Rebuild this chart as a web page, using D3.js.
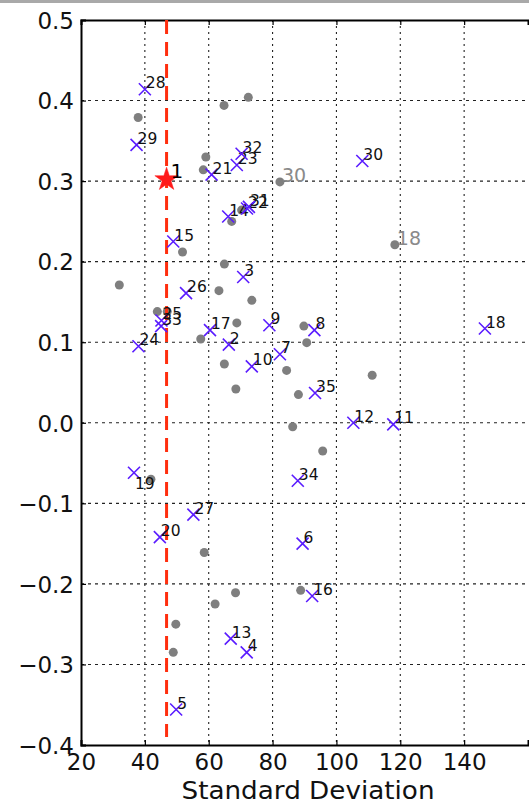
<!DOCTYPE html>
<html><head><meta charset="utf-8">
<script src="https://cdn.jsdelivr.net/npm/d3@7"></script>
<style>html,body{margin:0;padding:0;background:#fff;overflow:hidden}svg{display:block}</style>
</head><body>
<script>
// ---- data ----
const crossIds = ["28","29","21","23","32","14","22","31","15","30","3","26","25","33","24","17","2","9","10","7","8","18","35","12","11","34","19","27","20","6","16","13","4","5"];
const crossX = [40.0,37.4,60.9,68.8,70.3,66.1,72.0,72.6,48.9,108.1,70.8,52.9,45.2,45.1,38.0,60.4,66.3,79.0,73.5,82.3,93.1,146.5,93.3,105.3,117.8,87.9,36.6,55.2,44.7,89.4,92.4,66.9,71.9,49.8];
const crossY = [0.414,0.345,0.308,0.320,0.334,0.256,0.266,0.268,0.225,0.325,0.181,0.161,0.127,0.120,0.095,0.115,0.097,0.121,0.070,0.085,0.115,0.117,0.037,0.000,-0.002,-0.072,-0.062,-0.114,-0.142,-0.150,-0.215,-0.268,-0.285,-0.356];
const dotX = [37.9,64.8,72.4,59.1,58.3,82.3,67.2,70.3,51.8,118.3,32.0,64.9,63.2,73.5,43.9,47.0,68.8,57.5,64.9,84.4,68.5,88.1,86.3,89.8,90.7,111.2,95.7,41.9,58.6,68.4,62.0,49.7,88.8,48.9];
const dotY = [0.379,0.394,0.404,0.330,0.314,0.299,0.250,0.264,0.212,0.221,0.171,0.197,0.164,0.152,0.138,0.138,0.124,0.104,0.073,0.065,0.042,0.035,-0.005,0.120,0.0995,0.059,-0.035,-0.070,-0.161,-0.211,-0.225,-0.250,-0.208,-0.285];
const dotLabels = ["","","","","","30","","","","18","","","","","","","","","","","","","","","","","","","","","","","",""];
const refX = 46.8, refY = 0.302, refLabel = "1";
const xTicks = [20,40,60,80,100,120,140];
const yTicks = [0.5,0.4,0.3,0.2,0.1,0.0,-0.1,-0.2,-0.3,-0.4];
const xTitle = "Standard Deviation";

// ---- layout ----
const W = 529, H = 804;
const svg = d3.select("body").append("svg").attr("width", W).attr("height", H)
  .style("font-family", "'DejaVu Sans', sans-serif");
svg.append("rect").attr("x",0).attr("y",0).attr("width",W).attr("height",3).attr("fill","#a9a9a9");

const x = d3.scaleLinear().domain([20,160]).range([81,528]);
const y = d3.scaleLinear().domain([-0.4,0.5]).range([745,20]);

// grid
const g = svg.append("g");
g.selectAll("line.vg").data(xTicks.slice(1)).join("line")
  .attr("x1", d=>x(d)).attr("x2", d=>x(d)).attr("y1", y(0.5)).attr("y2", y(-0.4))
  .attr("stroke","#222").attr("stroke-width",1.1).attr("stroke-dasharray","2,4");
g.selectAll("line.hg").data(yTicks.slice(1,-1)).join("line")
  .attr("x1", x(20)).attr("x2", W).attr("y1", d=>y(d)).attr("y2", d=>y(d))
  .attr("stroke","#222").attr("stroke-width",1.1).attr("stroke-dasharray","3,4");

// axes
const xAxisB = d3.axisBottom(x).tickValues(xTicks).tickSize(-5).tickPadding(9).tickFormat(d3.format("d"));
const xAxisT = d3.axisTop(x).tickValues(xTicks).tickSize(-5).tickFormat("");
const yAxisL = d3.axisLeft(y).tickValues(yTicks).tickSize(-5).tickPadding(7)
  .tickFormat(d => d3.format(".1f")(d).replace("-", "\u2212"));
function style(sel){
  sel.select(".domain").attr("stroke","#000").attr("stroke-width",2);
  sel.selectAll(".tick line").attr("stroke","#000").attr("stroke-width",1.2);
  sel.selectAll(".tick text").attr("fill","#111").style("font-size","23px").style("font-family","'DejaVu Sans', sans-serif");
}
svg.append("g").attr("transform",`translate(0,${y(-0.4)})`).call(xAxisB).call(style);
svg.append("g").attr("transform",`translate(0,${y(0.5)})`).call(xAxisT).call(style);
svg.append("g").attr("transform",`translate(${x(20)},0)`).call(yAxisL).call(style)
  .selectAll(".tick text").attr("dy","0.36em");

svg.append("text").attr("x", 308).attr("y", 799).attr("text-anchor","middle")
  .style("font-size","24px").attr("fill","#111")
  .attr("textLength",253).attr("lengthAdjust","spacingAndGlyphs").text(xTitle);

// gray dots
svg.append("g").selectAll("circle").data(dotX.map((d,i)=>i)).join("circle")
  .attr("cx", i=>x(dotX[i])).attr("cy", i=>y(dotY[i])).attr("r",4.5).attr("fill","#7f7f7f");
svg.append("g").selectAll("text").data(dotX.map((d,i)=>i).filter(i=>dotLabels[i])).join("text")
  .attr("x", i=>x(dotX[i])+2).attr("y", i=>y(dotY[i])).style("font-size","19px").attr("fill","#8a8a8a")
  .text(i=>dotLabels[i]);

// red dashed reference line
svg.append("line").attr("x1",x(refX)).attr("x2",x(refX)).attr("y1",y(0.5)).attr("y2",y(-0.39))
  .attr("stroke","#ff2e0e").attr("stroke-width",3).attr("stroke-dasharray","14,8");

// crosses
const cs = 6;
const cg = svg.append("g").selectAll("g").data(crossIds.map((d,i)=>i)).join("g")
  .attr("transform", i=>`translate(${x(crossX[i])},${y(crossY[i])})`);
cg.append("path").attr("d",`M${-cs},${-cs}L${cs},${cs}M${-cs},${cs}L${cs},${-cs}`)
  .attr("stroke","#5a1cff").attr("stroke-width",1.6).attr("fill","none");
cg.append("text").attr("x",1).attr("y",i=>crossIds[i]==="19"?16:-1).style("font-size","15.5px").attr("fill","#111")
  .text(i=>crossIds[i]);

// star
svg.append("path").attr("d", d3.symbol().type(d3.symbolStar).size(170)())
  .attr("transform",`translate(${x(refX)},${y(refY)})`).attr("fill","#ff1a1a").attr("stroke","#ff1a1a").attr("stroke-width",0.5);
svg.append("text").attr("x",x(refX)+4).attr("y",y(refY)-2).style("font-size","20px").attr("fill","#000")
  .text(refLabel);
</script>
</body></html>
